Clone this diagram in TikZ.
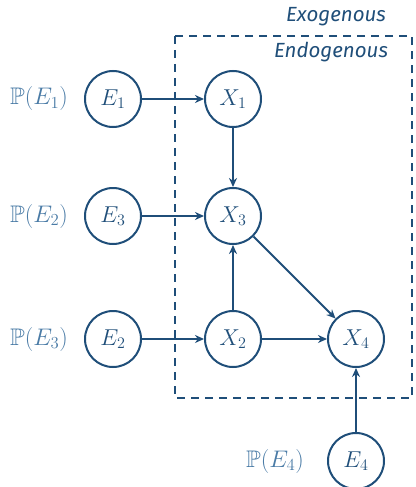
\RequirePackage{fix-cm}
\documentclass[tikz,border=0pt]{standalone}
\usepackage{amssymb}
\DeclareFontFamily{U}{msb}{}
\DeclareFontShape{U}{msb}{m}{n}{<-6>msbm5<6-8>msbm7<8->msbm10}{}
\usepackage{fontspec}
\newfontfamily\labfont{Fira Sans}
\usetikzlibrary{arrows.meta}
\definecolor{dblue}{HTML}{1F4E79}
\definecolor{lblue}{HTML}{4A7BA6}
\begin{document}
\begin{tikzpicture}[x=1pt,y=-1pt,
  var/.style={circle,draw=dblue,line width=2pt,minimum size=56pt,inner sep=0pt,text=dblue,font=\fontsize{23}{27}\selectfont},
  plab/.style={text=lblue,font=\fontsize{24}{28}\selectfont},
  edge/.style={draw=dblue,line width=2pt,-{Stealth[length=9pt,width=8pt]}},
  frame/.style={draw=dblue,line width=1.6pt,dash pattern=on 8pt off 6pt},
  title/.style={text=dblue,font=\labfont\itshape\fontsize{20.5}{24}\selectfont}]
\useasboundingbox (0,0) rectangle (415,487);
\node[var] (E1) at (113,99) {$E_1$};
\node[var] (X1) at (233,99) {$X_1$};
\node[var] (E3) at (113,216) {$E_3$};
\node[var] (X3) at (233,216) {$X_3$};
\node[var] (E2) at (113,339) {$E_2$};
\node[var] (X2) at (233,339) {$X_2$};
\node[var] (X4) at (356,339) {$X_4$};
\node[var] (E4) at (356,461) {$E_4$};
\node[plab] (P1) at (39,99) {$\mathbb{P}(E_1)$};
\node[plab] (P2) at (39,216) {$\mathbb{P}(E_2)$};
\node[plab] (P3) at (39,339) {$\mathbb{P}(E_3)$};
\node[plab] (P4) at (275,461) {$\mathbb{P}(E_4)$};
\coordinate (fa) at (175,36);
\coordinate (fb) at (412,398);
\draw[frame] (fa) rectangle (fb);
\node[title] (exo) at (336,17) {Exogenous};
\node[title] (endo) at (331,52) {Endogenous};
\draw[edge] (E1) -- (X1);
\draw[edge] (X1) -- (X3);
\draw[edge] (E3) -- (X3);
\draw[edge] (X2) -- (X3);
\draw[edge] (X3) -- (X4);
\draw[edge] (E2) -- (X2);
\draw[edge] (X2) -- (X4);
\draw[edge] (E4) -- (X4);
\end{tikzpicture}
\end{document}
